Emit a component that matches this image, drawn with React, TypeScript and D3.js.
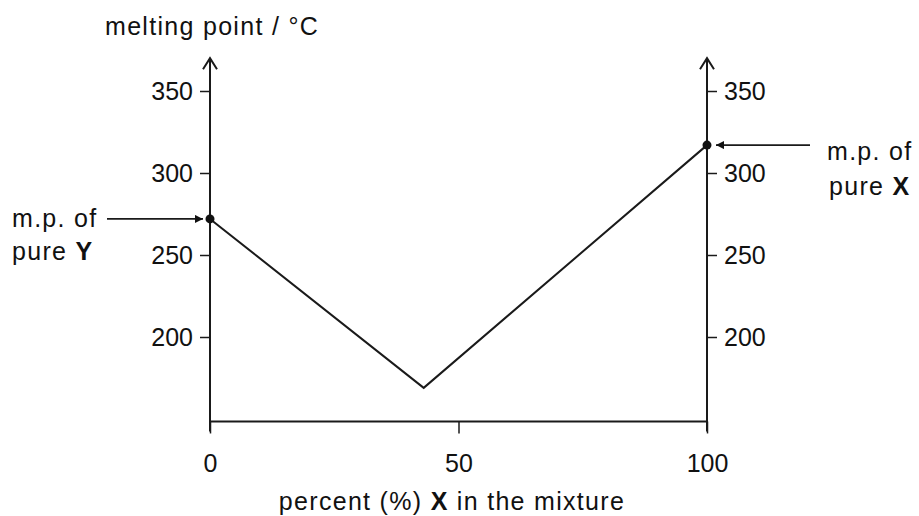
import { useEffect, useRef } from "react";
import * as d3 from "d3";

// data
const xPercent = [0, 43, 100];
const meltingPoint = [272, 169, 317];
const yTicks = [200, 250, 300, 350];
const xTicks = [0, 50, 100];
const yBottom = 148.5;
const yTop = 370;

const width = 919;
const height = 516;
const font = "'Liberation Sans', Arial, sans-serif";

const App = () => {
  const chartRef = useRef<SVGSVGElement>(null);

  useEffect(() => {
    if (!chartRef.current) return;
    const svg = d3.select(chartRef.current);
    svg.selectAll("*").remove();

    const x = d3.scaleLinear().domain([0, 100]).range([210, 707]);
    const y = d3.scaleLinear().domain([200, 350]).range([337, 91]);

    const x0 = x(0);
    const x1 = x(100);
    const yb = y(yBottom);
    const yt = y(yTop);

    // arrow marker for the label pointers
    svg
      .append("defs")
      .append("marker")
      .attr("id", "head")
      .attr("viewBox", "0 0 10 10")
      .attr("refX", 10)
      .attr("refY", 5)
      .attr("markerWidth", 11)
      .attr("markerHeight", 8)
      .attr("markerUnits", "userSpaceOnUse")
      .attr("orient", "auto")
      .append("path")
      .attr("d", "M0,0L10,5L0,10z")
      .attr("fill", "#111");

    const ink = "#1a1a1a";

    // vertical axes with open arrow tips
    [x0, x1].forEach((ax) => {
      svg
        .append("line")
        .attr("x1", ax)
        .attr("x2", ax)
        .attr("y1", yt)
        .attr("y2", yb + 10)
        .attr("stroke", ink)
        .attr("stroke-width", 2);
      svg
        .append("path")
        .attr("d", `M${ax - 7},${yt + 11}L${ax},${yt}L${ax + 7},${yt + 11}`)
        .attr("fill", "none")
        .attr("stroke", ink)
        .attr("stroke-width", 2);
    });

    // bottom axis
    svg
      .append("line")
      .attr("x1", x0)
      .attr("x2", x1)
      .attr("y1", yb)
      .attr("y2", yb)
      .attr("stroke", ink)
      .attr("stroke-width", 2);

    const xAxis = svg
      .append("g")
      .attr("transform", `translate(0,${yb})`)
      .call(d3.axisBottom(x).tickValues(xTicks).tickSize(12).tickPadding(21));
    xAxis.select(".domain").remove();

    const leftAxis = svg
      .append("g")
      .attr("transform", `translate(${x0},0)`)
      .call(d3.axisLeft(y).tickValues(yTicks).tickSize(10).tickPadding(7));
    leftAxis.select(".domain").remove();

    const rightAxis = svg
      .append("g")
      .attr("transform", `translate(${x1},0)`)
      .call(d3.axisRight(y).tickValues(yTicks).tickSize(10).tickPadding(7));
    rightAxis.select(".domain").remove();

    [xAxis, leftAxis, rightAxis].forEach((g) => {
      g.selectAll(".tick line").attr("stroke", ink).attr("stroke-width", 1.5);
      g.selectAll(".tick text")
        .attr("fill", "#111")
        .style("font-family", font)
        .style("font-size", "25px");
    });

    // data line
    const pts = xPercent.map((p, i) => [p, meltingPoint[i]] as [number, number]);
    const line = d3
      .line<[number, number]>()
      .x((d) => x(d[0]))
      .y((d) => y(d[1]));

    svg
      .append("path")
      .datum(pts)
      .attr("d", line)
      .attr("fill", "none")
      .attr("stroke", ink)
      .attr("stroke-width", 2);

    // end points (pure substances)
    [pts[0], pts[pts.length - 1]].forEach((d) => {
      svg
        .append("circle")
        .attr("cx", x(d[0]))
        .attr("cy", y(d[1]))
        .attr("r", 4.5)
        .attr("fill", "#111");
    });

    // pointer arrows
    const yY = y(meltingPoint[0]);
    const yX = y(meltingPoint[meltingPoint.length - 1]);
    svg
      .append("line")
      .attr("x1", 107)
      .attr("x2", x0 - 7)
      .attr("y1", yY)
      .attr("y2", yY)
      .attr("stroke", ink)
      .attr("stroke-width", 1.8)
      .attr("marker-end", "url(#head)");
    svg
      .append("line")
      .attr("x1", 810)
      .attr("x2", x1 + 9)
      .attr("y1", yX)
      .attr("y2", yX)
      .attr("stroke", ink)
      .attr("stroke-width", 1.8)
      .attr("marker-end", "url(#head)");

    const label = (tx: number, ty: number, parts: [string, boolean][], anchor = "start") => {
      const t = svg
        .append("text")
        .attr("x", tx)
        .attr("y", ty)
        .attr("text-anchor", anchor)
        .attr("fill", "#111")
        .style("font-family", font)
        .style("font-size", "25px")
        .style("letter-spacing", "1.3px");
      parts.forEach(([s, bold]) => {
        t.append("tspan").attr("font-weight", bold ? "bold" : "normal").text(s);
      });
    };

    label(105, 35, [["melting point / °C", false]]);
    label(12, 227, [["m.p. of", false]]);
    label(12, 260, [["pure ", false], ["Y", true]]);
    label(827, 160, [["m.p. of", false]]);
    label(829, 195, [["pure ", false], ["X", true]]);
    label(452, 510, [["percent (%) ", false], ["X", true], [" in the mixture", false]], "middle");
  }, []);

  return (
    <svg
      ref={chartRef}
      width={width}
      height={height}
      style={{ position: "absolute", left: 0, top: 0, background: "#fff" }}
    />
  );
};

export default App;
